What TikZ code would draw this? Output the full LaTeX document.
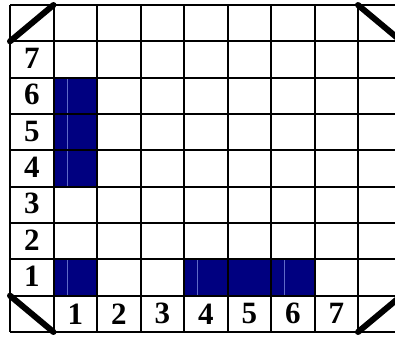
\documentclass[tikz,border=0pt]{standalone}
\usepackage{fontspec}
\setmainfont{Liberation Serif}
\definecolor{navyblue}{RGB}{0,0,128}
\definecolor{streak}{RGB}{95,105,200}
\begin{document}
\begin{tikzpicture}[x=1pt,y=-1pt,
  gridline/.style={line width=2pt,black},
  diag/.style={line width=6pt,black,line cap=round},
  lbl/.style={font=\fontsize{31}{31}\selectfont\bfseries,inner sep=0pt,anchor=center},
  bluecell/.style={fill=navyblue,draw=none},
  streakline/.style={draw=streak,line width=0.8pt}]
\useasboundingbox (0,0) rectangle (395,338);
\clip (0,0) rectangle (395,338);
\fill[white] (0,0) rectangle (395,338);
\def\cw{43.5}
\def\rh{36.333}
% blue cells
\foreach \c/\r in {1/2,1/3,1/4,1/7,4/7,5/7,6/7}{
  \fill[bluecell] ({10+\cw*\c},{5+\rh*\r}) rectangle ({10+\cw*(\c+1)},{5+\rh*(\r+1)});
}
% faint streaks
\foreach \r in {2,3,4,7}{
  \draw[streakline] (67,{5+\rh*\r+1}) -- (67,{5+\rh*(\r+1)-1});
}
\draw[streakline] (197,{5+\rh*7+1}) -- (197,{5+\rh*8-1});
\draw[streakline] (284,{5+\rh*7+1}) -- (284,{5+\rh*8-1});
% grid
\foreach \i in {0,...,9}{
  \draw[gridline] ({10+\cw*\i},5) -- ({10+\cw*\i},{5+\rh*9});
  \draw[gridline] (10,{5+\rh*\i}) -- ({10+\cw*9},{5+\rh*\i});
}
% diagonals
\coordinate (tl1) at (10,{5+\rh});
\coordinate (tl2) at ({10+\cw},5);
\coordinate (tr1) at ({10+\cw*8},5);
\coordinate (tr2) at ({10+\cw*9},{5+\rh});
\coordinate (bl1) at (10,{5+\rh*8});
\coordinate (bl2) at ({10+\cw},{5+\rh*9});
\coordinate (br1) at ({10+\cw*8},{5+\rh*9});
\coordinate (br2) at ({10+\cw*9},{5+\rh*8});
\draw[diag] (tl1) -- (tl2);
\draw[diag] (tr1) -- (tr2);
\draw[diag] (bl1) -- (bl2);
\draw[diag] (br1) -- (br2);
% row labels
\foreach \n/\r in {7/1,6/2,5/3,4/4,3/5,2/6,1/7}{
  \node[lbl] (row\n) at ({10+\cw*0.5},{5+\rh*(\r+0.5)-1}) {\n};
}
% column labels
\foreach \n in {1,...,7}{
  \node[lbl] (col\n) at ({10+\cw*(\n+0.5)},{5+\rh*8.5}) {\n};
}
\end{tikzpicture}
\end{document}
